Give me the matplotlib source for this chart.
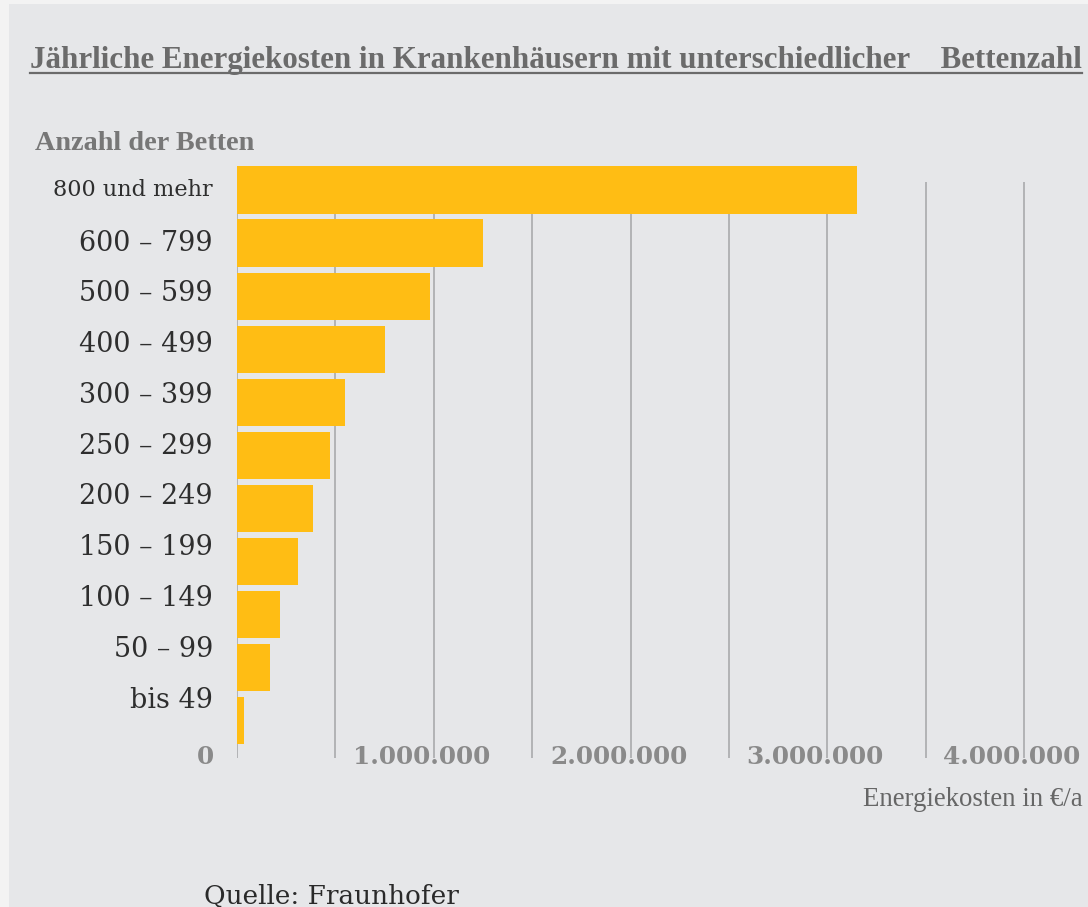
import numpy as np
import matplotlib
matplotlib.use("Agg")
import matplotlib.pyplot as plt
from matplotlib.transforms import offset_copy, blended_transform_factory
from matplotlib.lines import Line2D
from matplotlib.patches import Rectangle

# ---------------- data ----------------
categories = ["800 und mehr", "600 – 799", "500 – 599", "400 – 499", "300 – 399",
              "250 – 299", "200 – 249", "150 – 199", "100 – 149", "50 – 99", "bis 49"]
costs = [3150000, 1250000, 980000, 750000, 550000, 475000, 385000, 310000, 220000, 168000, 38000]
tick_values = [0, 1000000, 2000000, 3000000, 4000000]
tick_labels = ["0", "1.000.000", "2.000.000", "3.000.000", "4.000.000"]
grid_step = 500000

title = "Jährliche Energiekosten in Krankenhäusern mit unterschiedlicher    Bettenzahl"
ylabel = "Anzahl der Betten"
xlabel = "Energiekosten in €/a"
source = "Quelle: Fraunhofer"

# ---------------- style ----------------
W, H = 1088, 907
BG = "#e6e7e9"
BAR = "#ffbd14"
GRID = "#b2b3b5"
SERIF = ["DejaVu Serif"]
NARROW = ["Liberation Serif", "DejaVu Serif"]

fig = plt.figure(figsize=(W / 100, H / 100), dpi=100, facecolor="#f3f3f3")
fig.patches.append(Rectangle((9 / W, 0), 1, 1 - 4 / H, transform=fig.transFigure,
                             facecolor=BG, edgecolor="none", zorder=-10))

px = 196.75e-6  # pixels per euro
x_right = 4.03e6
left_px, top_px, bottom_px = 237, 182, 758
ax = fig.add_axes([left_px / W, (H - bottom_px) / H, x_right * px / W, (bottom_px - top_px) / H])
ax.set_facecolor("none")
for s in ax.spines.values():
    s.set_visible(False)

n = len(categories)
pos = np.arange(n)
ax.barh(pos, costs, height=0.89, color=BAR, edgecolor="none", clip_on=False, zorder=3)
ax.set_xlim(0, x_right)
ax.set_ylim(10.70, -0.15)

ax.set_xticks(np.arange(0, tick_values[-1] + 1, grid_step))
ax.grid(axis="x", color=GRID, lw=1.4, zorder=1)
ax.tick_params(length=0, labelbottom=False, labelleft=False)
ax.set_yticks([])

# x tick labels
blend = blended_transform_factory(ax.transData, ax.transAxes)
xt = []
for v, lab in zip(tick_values, tick_labels):
    dx = -32 if v == 0 else -12
    tr = offset_copy(blend, fig=fig, x=dx, y=1, units="dots")
    xt.append(ax.text(v, 0, lab, transform=tr, ha="center", va="center", fontsize=15,
                      fontweight="bold", color="#8a8a8a", family=SERIF))

# y category labels
yt = []
for i, lab in enumerate(categories):
    dy = 0 if i == 0 else 2.3 * (i - 1)
    tr = offset_copy(ax.transData, fig=fig, x=-24, y=dy, units="dots")
    fs = 15 if i == 0 else 17.5
    yt.append(ax.text(0, i, lab, transform=tr, ha="right", va="center", fontsize=fs,
                      color="#2e2e2e", family=SERIF))

# texts
t_title = fig.text(30 / W, (H - 68) / H, title, ha="left", va="baseline", fontsize=20,
                   color="#6b6b6b", family=NARROW, fontweight="bold")
t_ylab = fig.text(35 / W, (H - 150) / H, ylabel, ha="left", va="baseline", fontsize=16,
                  color="#777777", family=NARROW, fontweight="bold")
t_xlab = fig.text(1083 / W, (H - 806) / H, xlabel, ha="right", va="baseline", fontsize=16,
                  color="#666666", family=NARROW)
t_src = fig.text(204 / W, (H - 904) / H, source, ha="left", va="baseline", fontsize=18,
                 color="#2a2a2a", family=SERIF)

fig.canvas.draw()
r = fig.canvas.get_renderer()
for t, target in [(t_title, 1053), (t_ylab, 220), (t_xlab, 221), (t_src, 254), (yt[0], 160)]:
    w = t.get_window_extent(r).width
    t.set_fontsize(t.get_fontsize() * target / w)
# common size for range labels and tick labels
s_y = 134 / yt[1].get_window_extent(r).width
for t in yt[1:]:
    t.set_fontsize(t.get_fontsize() * s_y)
s_x = 138 / xt[1].get_window_extent(r).width
for t in xt:
    t.set_fontsize(t.get_fontsize() * s_x)
fig.canvas.draw()
bb = t_title.get_window_extent(r)
fig.add_artist(Line2D([bb.x0 / W, bb.x1 / W], [(H - 73) / H] * 2, transform=fig.transFigure,
                      color="#6b6b6b", lw=1.6))

fig.savefig("out.png", dpi=100, facecolor=fig.get_facecolor())
